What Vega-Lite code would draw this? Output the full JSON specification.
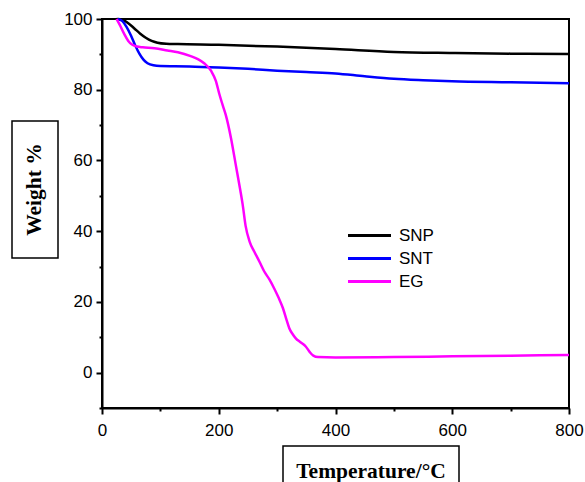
{
  "$schema": "https://vega.github.io/schema/vega-lite/v6.json",
  "background": "white",
  "padding": {"left": 11, "top": 9, "right": 0, "bottom": 0},
  "bounds": "flush",
  "spacing": 90,
  "config": {
    "font": "Liberation Sans",
    "axis": {
      "grid": false,
      "domainColor": "black",
      "domainWidth": 2,
      "tickColor": "black",
      "tickWidth": 2,
      "labelColor": "black",
      "labelFont": "Liberation Sans",
      "labelFontSize": 17,
      "labelOverlap": false,
      "labelFlush": false
    }
  },
  "hconcat": [
    {
      "bounds": "flush",
      "spacing": 0,
      "vconcat": [
        {
          "width": 46,
          "height": 102,
          "data": {"values": [{"k": 1}]},
          "view": {"stroke": null},
          "mark": {"type": "text"},
          "encoding": {"text": {"value": ""}}
        },
        {
          "width": 46,
          "height": 137,
          "data": {"values": [{"k": 1}]},
          "view": {"stroke": "black", "strokeWidth": 1.5},
          "mark": {"type": "text", "angle": 270, "font": "Liberation Serif", "fontWeight": "bold", "fontSize": 21.5, "align": "center", "baseline": "middle", "color": "black"},
          "encoding": {"text": {"value": "Weight %"}}
        }
      ]
    },
    {
      "bounds": "flush",
      "spacing": 38,
      "vconcat": [
        {
          "width": 467,
          "height": 389,
          "view": {"stroke": "black", "strokeWidth": 2},
          "data": {
            "values": [
              {"s": "SNP", "t": 25, "w": 100},
              {"s": "SNP", "t": 35, "w": 99.8},
              {"s": "SNP", "t": 45, "w": 98.8},
              {"s": "SNP", "t": 55, "w": 97.4},
              {"s": "SNP", "t": 65, "w": 95.9},
              {"s": "SNP", "t": 75, "w": 94.7},
              {"s": "SNP", "t": 85, "w": 93.8},
              {"s": "SNP", "t": 95, "w": 93.3},
              {"s": "SNP", "t": 110, "w": 93.0},
              {"s": "SNP", "t": 130, "w": 92.9},
              {"s": "SNP", "t": 200, "w": 92.7},
              {"s": "SNP", "t": 300, "w": 92.2},
              {"s": "SNP", "t": 400, "w": 91.5},
              {"s": "SNP", "t": 500, "w": 90.7},
              {"s": "SNP", "t": 600, "w": 90.4},
              {"s": "SNP", "t": 700, "w": 90.2},
              {"s": "SNP", "t": 800, "w": 90.1},
              {"s": "SNT", "t": 27, "w": 100},
              {"s": "SNT", "t": 35, "w": 99.4},
              {"s": "SNT", "t": 42, "w": 97.8},
              {"s": "SNT", "t": 50, "w": 95.2},
              {"s": "SNT", "t": 57, "w": 92.5},
              {"s": "SNT", "t": 64, "w": 90.2},
              {"s": "SNT", "t": 71, "w": 88.5},
              {"s": "SNT", "t": 78, "w": 87.5},
              {"s": "SNT", "t": 88, "w": 86.9},
              {"s": "SNT", "t": 100, "w": 86.7},
              {"s": "SNT", "t": 150, "w": 86.6},
              {"s": "SNT", "t": 200, "w": 86.3},
              {"s": "SNT", "t": 250, "w": 85.9},
              {"s": "SNT", "t": 300, "w": 85.4},
              {"s": "SNT", "t": 350, "w": 85.0},
              {"s": "SNT", "t": 400, "w": 84.6},
              {"s": "SNT", "t": 450, "w": 83.8},
              {"s": "SNT", "t": 500, "w": 83.1},
              {"s": "SNT", "t": 550, "w": 82.7},
              {"s": "SNT", "t": 600, "w": 82.4},
              {"s": "SNT", "t": 700, "w": 82.1},
              {"s": "SNT", "t": 800, "w": 81.8},
              {"s": "EG", "t": 25, "w": 100},
              {"s": "EG", "t": 30, "w": 98.5},
              {"s": "EG", "t": 38, "w": 95.8},
              {"s": "EG", "t": 45, "w": 93.8},
              {"s": "EG", "t": 52, "w": 92.7},
              {"s": "EG", "t": 60, "w": 92.2},
              {"s": "EG", "t": 70, "w": 92.0},
              {"s": "EG", "t": 90, "w": 91.7},
              {"s": "EG", "t": 112, "w": 91.1},
              {"s": "EG", "t": 130, "w": 90.6},
              {"s": "EG", "t": 152, "w": 89.5},
              {"s": "EG", "t": 165, "w": 88.6},
              {"s": "EG", "t": 175, "w": 87.5},
              {"s": "EG", "t": 187, "w": 85.3},
              {"s": "EG", "t": 195, "w": 82.5},
              {"s": "EG", "t": 201, "w": 78.8},
              {"s": "EG", "t": 207, "w": 75.5},
              {"s": "EG", "t": 212, "w": 72.9},
              {"s": "EG", "t": 221, "w": 66.3},
              {"s": "EG", "t": 229, "w": 58.9},
              {"s": "EG", "t": 237, "w": 51.5},
              {"s": "EG", "t": 241, "w": 47.5},
              {"s": "EG", "t": 246, "w": 41.5},
              {"s": "EG", "t": 253, "w": 37.0},
              {"s": "EG", "t": 261, "w": 34.2},
              {"s": "EG", "t": 270, "w": 31.3},
              {"s": "EG", "t": 278, "w": 28.6},
              {"s": "EG", "t": 287, "w": 26.3},
              {"s": "EG", "t": 295, "w": 23.8},
              {"s": "EG", "t": 303, "w": 21.0},
              {"s": "EG", "t": 310, "w": 18.2},
              {"s": "EG", "t": 316, "w": 15.0},
              {"s": "EG", "t": 321, "w": 12.5},
              {"s": "EG", "t": 327, "w": 10.8},
              {"s": "EG", "t": 332, "w": 9.7},
              {"s": "EG", "t": 340, "w": 8.6},
              {"s": "EG", "t": 349, "w": 7.4},
              {"s": "EG", "t": 356, "w": 5.8},
              {"s": "EG", "t": 362, "w": 4.8},
              {"s": "EG", "t": 370, "w": 4.4},
              {"s": "EG", "t": 400, "w": 4.3},
              {"s": "EG", "t": 500, "w": 4.4},
              {"s": "EG", "t": 600, "w": 4.6},
              {"s": "EG", "t": 700, "w": 4.8},
              {"s": "EG", "t": 800, "w": 5.0}
            ]
          },
          "mark": {"type": "line", "strokeWidth": 2.5, "interpolate": "monotone"},
          "encoding": {
            "x": {
              "field": "t",
              "type": "quantitative",
              "scale": {"domain": [0, 800], "nice": false},
              "axis": {
                "title": null,
                "values": [0, 100, 200, 300, 400, 500, 600, 700, 800],
                "labelExpr": "datum.value % 200 === 0 ? datum.label : ''",
                "tickSize": {"condition": {"test": "datum.value % 200 === 0", "value": 6}, "value": 3},
                "labelPadding": 8
              }
            },
            "y": {
              "field": "w",
              "type": "quantitative",
              "scale": {"domain": [-10, 100], "nice": false, "zero": false},
              "axis": {
                "title": null,
                "values": [-10, 0, 10, 20, 30, 40, 50, 60, 70, 80, 90, 100],
                "labelExpr": "datum.value % 20 === 0 ? datum.label : ''",
                "tickSize": {"condition": {"test": "datum.value % 20 === 0", "value": 6}, "value": 3},
                "labelPadding": 4
              }
            },
            "color": {
              "field": "s",
              "type": "nominal",
              "scale": {"domain": ["SNP", "SNT", "EG"], "range": ["#000000", "#0000FF", "#FF00FF"]},
              "legend": {
                "title": null,
                "orient": "none",
                "legendX": 346,
                "legendY": 205,
                "padding": 0,
                "symbolType": "M-2.15,0H2.15",
                "symbolSize": 400,
                "symbolStrokeWidth": 3,
                "labelFont": "Liberation Sans",
                "labelFontSize": 17,
                "labelColor": "black",
                "labelOffset": 18,
                "rowPadding": 3
              }
            }
          }
        },
        {
          "bounds": "flush",
          "spacing": 0,
          "hconcat": [
            {
              "width": 181,
              "height": 45,
              "data": {"values": [{"k": 1}]},
              "view": {"stroke": null},
              "mark": {"type": "text"},
              "encoding": {"text": {"value": ""}}
            },
            {
              "width": 176,
              "height": 45,
              "data": {"values": [{"k": 1}]},
              "view": {"stroke": "black", "strokeWidth": 1.5},
              "mark": {"type": "text", "font": "Liberation Serif", "fontWeight": "bold", "fontSize": 21.5, "align": "center", "baseline": "alphabetic", "dy": 9, "color": "black"},
              "encoding": {"text": {"value": "Temperature/°C"}}
            }
          ]
        }
      ]
    }
  ]
}
